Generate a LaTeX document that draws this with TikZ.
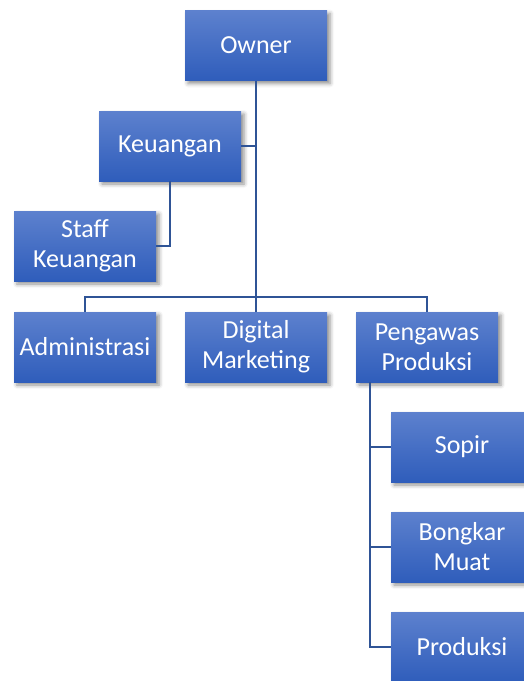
\documentclass[tikz,border=0pt]{standalone}
\usepackage{fontspec}
\setmainfont{Carlito}
\usetikzlibrary{shadows.blur}
\definecolor{boxtop}{RGB}{93,129,206}
\definecolor{boxbot}{RGB}{47,93,187}
\definecolor{linkblue}{RGB}{47,84,150}
\tikzset{
  orgbox/.style={rectangle, minimum width=142pt, minimum height=70pt, inner sep=0pt,
    top color=boxtop, bottom color=boxbot, draw=none, text=white,
    font=\fontsize{26}{30}\selectfont, align=center,
    blur shadow={shadow xshift=3pt, shadow yshift=-3pt, shadow blur radius=4pt, shadow opacity=45}},
  link/.style={draw=linkblue, line width=2.4pt}
}
\begin{document}
\begin{tikzpicture}[x=1pt,y=-1pt]
\useasboundingbox (0,0) rectangle (523,681);
% boxes
\node[orgbox] (owner) at (256,45.5) {Owner};
\node[orgbox] (keu) at (170,146) {Keuangan};
\node[orgbox] (staff) at (85,246) {Staff\\Keuangan};
\node[orgbox] (adm) at (85,347) {Administrasi};
\node[orgbox] (dm) at (256,347) {Digital\\Marketing};
\node[orgbox] (pp) at (427,347) {Pengawas\\Produksi};
\node[orgbox] (sopir) at (462,447) {Sopir};
\node[orgbox] (bm) at (462,547) {Bongkar\\Muat};
\node[orgbox] (prod) at (462,647) {Produksi};
% connectors
\coordinate (bus) at (256,297);
\coordinate (pv) at ([xshift=14pt]pp.south west);
\draw[link] (owner.south) -- (bus);
\draw[link] (adm.north) |- (bus);
\draw[link] (pp.north) |- (bus);
\draw[link] (dm.north) -- (bus);
\draw[link] (keu.east) -- (keu.east -| owner.south);
\draw[link] (keu.south) |- (staff.east);
\draw[link] (pv) |- (sopir.west);
\draw[link] (pv) |- (bm.west);
\draw[link] (pv) |- (prod.west);
\end{tikzpicture}
\end{document}
